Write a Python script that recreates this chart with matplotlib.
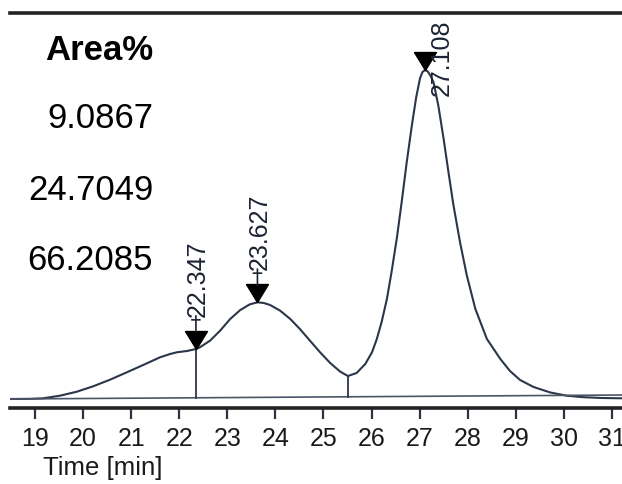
import matplotlib
matplotlib.use("Agg")
import matplotlib.pyplot as plt
import matplotlib.transforms as mtransforms
import numpy as np

# chromatogram trace (time in min, signal in arbitrary units)
time_min = [18.48, 18.90, 19.17, 19.52, 19.87, 20.21, 20.56, 20.91, 21.25, 21.60,
            21.81, 21.95, 22.16, 22.35, 22.43, 22.64, 22.85, 23.06, 23.27, 23.47,
            23.63, 23.76, 23.89, 24.10, 24.31, 24.51, 24.72, 24.93, 25.14, 25.35,
            25.51, 25.69, 25.87, 26.01, 26.11, 26.21, 26.32, 26.42, 26.53, 26.63,
            26.73, 26.84, 26.93, 27.01, 27.06, 27.11, 27.17, 27.23, 27.29, 27.39,
            27.50, 27.60, 27.70, 27.84, 27.98, 28.16, 28.40, 28.68, 28.88, 29.09,
            29.37, 29.72, 30.06, 30.41, 30.80, 31.21]
signal = [0.0, 0.2, 0.7, 3.3, 7.3, 12.7, 19.3, 26.7, 34.0, 41.7,
          45.0, 46.7, 48.0, 50.0, 51.7, 58.3, 68.3, 80.0, 89.0, 94.7,
          96.7, 96.0, 94.0, 88.3, 80.0, 70.0, 58.3, 46.7, 36.0, 27.3,
          23.0, 26.0, 35.0, 46.7, 60.0, 77.0, 100.0, 128.0, 162.0, 198.0,
          236.0, 274.0, 302.0, 321.0, 327.0, 329.0, 327.5, 323.0, 316.7, 293.3,
          260.0, 227.0, 195.0, 157.0, 124.0, 90.0, 60.0, 40.0, 28.0, 19.0,
          12.0, 6.5, 3.3, 1.8, 1.0, 0.7]

peak_times = [22.347, 23.627, 27.108]
peak_labels = ["22.347", "23.627", "27.108"]
area_pct = ["9.0867", "24.7049", "66.2085"]
drop_times = [22.347, 25.51]
baseline_t = [18.48, 31.21]
baseline_s = [0.0, 4.0]
xticks = list(range(19, 32))

TRACE = "#2b3648"
TEXT = "#1c2433"

plt.rcParams["font.family"] = ["Liberation Sans", "DejaVu Sans"]

fig = plt.figure(figsize=(6.22, 4.85), dpi=100)
ax = fig.add_axes([10 / 622, 1 - 408.7 / 485, 612 / 622, (408.7 - 13.5) / 485])
ax.set_xlim(18.48, 31.21)
ax.set_ylim(-8.7, 386.5)

ax.plot(time_min, signal, color=TRACE, lw=1.5, solid_joinstyle="round")
ax.plot(baseline_t, baseline_s, color="#4a5566", lw=1.2)

for t in drop_times:
    top = np.interp(t, time_min, signal)
    bot = np.interp(t, baseline_t, baseline_s)
    ax.plot([t, t], [bot, top], color=TRACE, lw=1.3)


def shifted(dx, dy):
    # data coordinates moved by a fixed offset in points
    return mtransforms.offset_copy(ax.transData, fig=fig, x=dx, y=dy, units="points")


def seg(t, h, p0, p1):
    ax.annotate("", xy=(t, h), xycoords=shifted(*p0),
                xytext=(t, h), textcoords=shifted(*p1),
                arrowprops=dict(arrowstyle="-", color=TEXT, lw=1.2,
                                shrinkA=0, shrinkB=0),
                annotation_clip=False)


# peak markers: filled down-pointing triangle whose tip sits on the apex
tri = [(-11, 18), (11, 18), (0, 0), (-11, 18)]
for i, t in enumerate(peak_times):
    h = np.interp(t, time_min, signal)
    ax.plot(t, h, marker=tri, ms=25.9, color="black", mec="black", lw=0,
            clip_on=False)
    if i < 2:
        seg(t, h, (0, 12.5), (0, 24))
        seg(t, h, (-3, 21), (3, 21))
        ax.annotate(peak_labels[i], xy=(t, h), xytext=(1.5, 24),
                    textcoords="offset points", rotation=90,
                    ha="center", va="bottom", fontsize=18, color=TEXT,
                    annotation_clip=False)
    else:
        ax.annotate(peak_labels[i], xy=(t, h), xytext=(12.5, -18),
                    textcoords="offset points", rotation=90,
                    ha="center", va="bottom", fontsize=18, color=TEXT,
                    annotation_clip=False)

ax.set_xticks(xticks)
ax.set_xticklabels([str(v) for v in xticks])
ax.set_yticks([])
ax.tick_params(axis="x", direction="out", length=8, width=1.6, pad=5,
               labelsize=18, colors="#2b3340", labelcolor="#1a1a1a")
for side in ["left", "right"]:
    ax.spines[side].set_visible(False)
for side in ["top", "bottom"]:
    ax.spines[side].set_linewidth(2.6)
    ax.spines[side].set_color("#222222")

fig.text(43 / 622, 1 - 468 / 485, "Time [min]", ha="left", va="center",
         fontsize=18.5, color="#1a1a1a")

# area% table on the left
fig.text(153 / 622, 1 - 60 / 485, "Area%", ha="right", va="baseline",
         fontsize=25, fontweight="bold", color="black")
for txt, y in zip(area_pct, [128, 200, 270]):
    fig.text(153 / 622, 1 - y / 485, txt, ha="right", va="baseline",
             fontsize=25, color="black")

fig.savefig("out.png", dpi=100)
